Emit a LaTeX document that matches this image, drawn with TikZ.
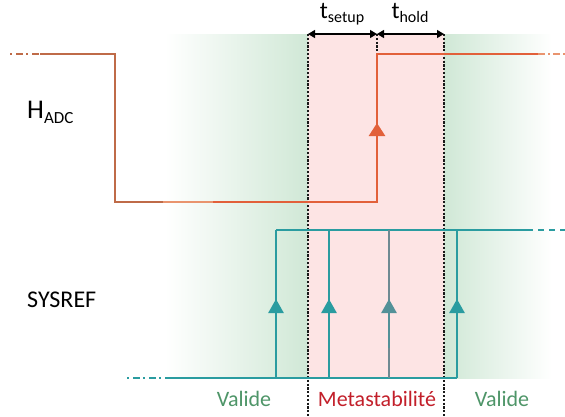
\documentclass[tikz,border=0pt]{standalone}
\usepackage{fontspec}
\setmainfont{Carlito}
\usepackage{xcolor}
\usetikzlibrary{arrows.meta}
\definecolor{vgreen}{HTML}{D0E8D6}
\definecolor{pinkbg}{HTML}{FDE4E4}
\definecolor{hbrown}{HTML}{BF6B48}
\definecolor{hsalmon}{HTML}{E9946E}
\definecolor{horange}{HTML}{E2603A}
\definecolor{steal}{HTML}{2A9CA0}
\definecolor{sgray}{HTML}{6F8A92}
\definecolor{txgreen}{HTML}{4E9568}
\definecolor{txred}{HTML}{C21F2A}
\tikzset{
  vline/.style  = {black!90, line width=1.1pt, dash pattern=on 2.2pt off 1.6pt},
  dimarr/.style = {{Triangle[length=7pt,width=8pt]}-{Triangle[length=7pt,width=8pt]},
                   line width=1.3pt},
  hsig/.style   = {line width=1.8pt, horange},
  ssig/.style   = {line width=1.8pt, steal},
  harr/.style   = {-{Triangle[length=13pt,width=16pt]}, line width=2.6pt, horange},
  sarr/.style   = {-{Triangle[length=14pt,width=15pt]}, line width=2.6pt, steal},
  lbl/.style    = {font=\fontsize{24}{26}\selectfont, inner sep=0pt, anchor=base},
  zone/.style   = {font=\fontsize{22}{24}\selectfont, inner sep=0pt, anchor=base},
}

\begin{document}
\begin{tikzpicture}[x=1pt, y=-1pt]
  \useasboundingbox (0,0) rectangle (565,416);

  % zones
  \shade[left color=white, right color=vgreen] (165,34) rectangle (308,378);
  \shade[left color=vgreen, right color=white] (444,34) rectangle (552,378);
  \fill[pinkbg] (308,34) rectangle (444,378);
  \draw[vline] (308,34) -- (308,416);
  \draw[vline] (444,34) -- (444,416);
  \draw[vline] (377,34) -- (377,54);

  % setup / hold
  \coordinate (ds) at (308,34);
  \coordinate (dm) at (377,34);
  \coordinate (dh) at (444,34);
  \draw[dimarr] (ds) -- (dm);
  \draw[dimarr] (dm) -- (dh);
  \node[lbl] (tsetup) at (342,18)
    {t{\fontsize{16}{16}\selectfont\raisebox{-4pt}{setup}}};
  \node[lbl] (thold) at (410,18)
    {t{\fontsize{16}{16}\selectfont\raisebox{-4pt}{hold}}};

  % H_ADC
  \node[lbl, anchor=base west, font=\fontsize{27}{29}\selectfont] (hadc) at (27,118)
    {H{\fontsize{17}{17}\selectfont\raisebox{-5pt}{ADC}}};
  \coordinate (h0) at (10,54);
  \coordinate (h1) at (40,54);
  \coordinate (h2) at (115,54);
  \coordinate (h3) at (115,202);
  \coordinate (h4) at (163,202);
  \coordinate (h5) at (213,202);
  \coordinate (h6) at (377,202);
  \coordinate (h7) at (377,54);
  \coordinate (h8) at (538,54);
  \coordinate (h9) at (565,54);
  \draw[hsig, hbrown, dash pattern=on 2pt off 4pt on 7pt off 3pt] (h0) -- (h1);
  \draw[hsig, hbrown] (h1) -- (h2) -- (h3) -- (h4);
  \draw[hsig, hsalmon] (h4) -- (h5);
  \draw[hsig] (h5) -- (h6) -- (h7) -- (h8);
  \draw[hsig, hsalmon, dash pattern=on 7pt off 3pt on 2pt off 3pt] (h8) -- (h9);
  \draw[harr] (377,172) -- (377,123);

  % SYSREF
  \node[lbl, anchor=base west] (sysref) at (27,307) {SYSREF};
  \coordinate (s0) at (127,378);
  \coordinate (s1) at (165,378);
  \coordinate (s2) at (457,378);
  \coordinate (s3) at (276,230);
  \coordinate (s4) at (527,230);
  \coordinate (s5) at (565,230);
  \draw[ssig, dash pattern=on 2pt off 4pt on 7pt off 3pt] (s0) -- (s1);
  \draw[ssig] (s1) -- (s2);
  \draw[ssig] (s3) -- (s4);
  \draw[ssig, dash pattern=on 6pt off 5pt] (s4) -- (s5);
  \foreach \x in {276,329,457} {
    \draw[ssig] (\x,378) -- (\x,230);
    \draw[sarr] (\x,348) -- (\x,299);
  }
  \draw[ssig, sgray] (389,378) -- (389,230);
  \draw[sarr, sgray!60!steal] (389,348) -- (389,299);

  % zone labels
  \node[zone, txgreen] (valid1) at (244,406) {Valide};
  \node[zone, txred] (meta) at (377,406) {Metastabilité};
  \node[zone, txgreen] (valid2) at (502,406) {Valide};
\end{tikzpicture}
\end{document}
